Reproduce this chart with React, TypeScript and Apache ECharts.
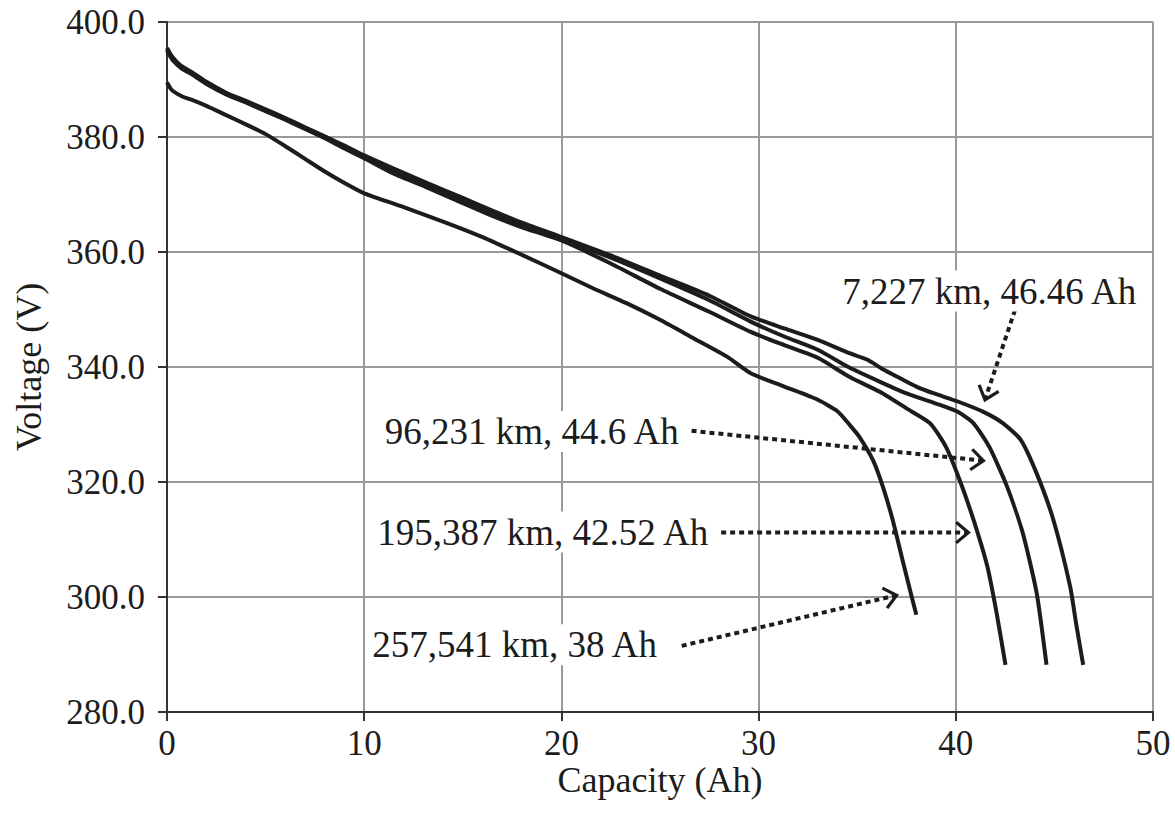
import React, { useEffect, useRef } from "react";
import * as echarts from "echarts";

// Capacity (Ah) / Voltage (V) readings for each battery
const capA = [0, 0.15, 0.3, 0.7, 1.3, 2, 3, 4, 5, 6, 7, 8, 9, 10, 11.5, 13.2, 15, 16.5, 18, 20, 22.5, 25, 27.5, 29.6, 31.3, 33, 34.6, 35.5, 36.3, 37.2, 38, 38.9, 40.1, 41.4, 42.4, 43.3, 44.1, 44.95, 45.8, 46.1, 46.46];
const voltA = [395.5, 394.6, 393.8, 392.4, 391.2, 389.6, 387.7, 386.3, 384.8, 383.3, 381.7, 380.1, 378.5, 376.8, 374.5, 372.0, 369.4, 367.2, 365.1, 362.6, 359.4, 355.9, 352.4, 348.8, 346.7, 344.7, 342.4, 341.3, 339.6, 338.0, 336.6, 335.4, 334.0, 332.2, 330.2, 327.3, 321.5, 313.4, 301.8, 295.4, 288.2];

const capB = [0, 0.15, 0.3, 0.7, 1.3, 2, 3, 4, 5, 6, 7, 8, 9, 10, 11.5, 13.2, 15, 16.5, 18, 20, 22.5, 25, 27.5, 29.6, 31.3, 33, 34.6, 36.3, 37.5, 39.2, 40.1, 40.9, 41.7, 42.6, 43.4, 44.1, 44.6];
const voltB = [395.3, 394.4, 393.6, 392.2, 391.0, 389.4, 387.5, 386.1, 384.6, 383.1, 381.5, 379.9, 378.2, 376.5, 374.1, 371.6, 369.0, 366.9, 364.8, 362.3, 359.0, 355.4, 351.6, 347.9, 345.3, 343.0, 339.9, 337.2, 335.4, 333.4, 332.2, 330.2, 326.1, 319.2, 311.1, 300.7, 288.2];

const capC = [0, 0.15, 0.3, 0.7, 1.3, 2, 3, 4, 5, 6, 7, 8, 9, 10, 11.5, 13.2, 15, 16.5, 18, 20, 22.5, 25, 27.5, 29.6, 31.3, 33, 34.6, 36.3, 37.5, 38.7, 39.5, 40.2, 40.9, 41.6, 42.07, 42.52];
const voltC = [395.0, 394.1, 393.3, 392.0, 390.8, 389.2, 387.4, 386.0, 384.5, 383.0, 381.4, 379.8, 378.0, 376.3, 373.6, 371.2, 368.5, 366.3, 364.3, 362.0, 358.0, 353.6, 349.6, 346.1, 343.8, 341.6, 338.3, 335.4, 332.8, 330.2, 326.1, 320.3, 313.4, 305.3, 297.2, 288.2];

const capD = [0, 0.15, 0.3, 0.8, 1.3, 2, 3, 4, 5, 6, 7, 8, 9, 10, 12, 14, 16, 18, 20, 21.6, 23.3, 25, 26.7, 28.4, 29.6, 31.3, 33, 34, 34.6, 35.1, 35.8, 36.3, 36.8, 37.3, 37.76, 38.0];
const voltD = [389.5, 388.6, 388.0, 387.0, 386.4, 385.4, 383.8, 382.2, 380.5, 378.4, 376.2, 374.0, 372.0, 370.2, 367.8, 365.3, 362.6, 359.5, 356.3, 353.7, 351.1, 348.2, 345.0, 341.8, 338.9, 336.6, 334.3, 332.3, 330.0, 327.9, 323.8, 319.2, 313.4, 306.4, 300.1, 296.9];

const seriesNames = ["7,227 km", "96,231 km", "195,387 km", "257,541 km"];
const annotationTexts = ["7,227 km, 46.46 Ah", "96,231 km, 44.6 Ah", "195,387 km, 42.52 Ah", "257,541 km, 38 Ah"];

// annotation anchors in data units [Ah, V]
const annotationTextAt = [
  [41.7, 353.2],
  [26.15, 328.8],
  [27.65, 311.3],
  [25.05, 291.7],
];
const annotationTextAlign = ["center", "right", "right", "right"];
const arrowFrom = [
  [43.0, 349.9],
  [26.6, 328.9],
  [28.1, 311.2],
  [26.1, 291.5],
];
const arrowTo = [
  [41.48, 334.3],
  [41.4, 323.7],
  [40.64, 311.2],
  [37.0, 300.3],
];

const xTicks = { min: 0, max: 50, interval: 10 };
const yTicks = { min: 280, max: 400, interval: 20 };

const zip = (xs: number[], ys: number[]) => xs.map((x, i) => [x, ys[i]]);

const FONT = '"Liberation Serif", "Times New Roman", serif';
const INK = "#1c1c1c";

export default function App() {
  const ref = useRef<HTMLDivElement>(null);

  useEffect(() => {
    if (!ref.current) return;
    const chart = echarts.init(ref.current, null, { renderer: "svg" });
    const datasets = [zip(capA, voltA), zip(capB, voltB), zip(capC, voltC), zip(capD, voltD)];

    chart.setOption({
      animation: false,
      backgroundColor: "#ffffff",
      grid: { left: 167, right: 22, top: 22, bottom: 109, containLabel: false },
      xAxis: {
        type: "value",
        min: xTicks.min,
        max: xTicks.max,
        interval: xTicks.interval,
        name: "Capacity (Ah)",
        nameLocation: "middle",
        nameGap: 50,
        nameMoveOverlap: false,
        nameTextStyle: { fontFamily: FONT, fontSize: 36, color: INK, lineHeight: 36 },
        axisLine: { show: true, onZero: false, lineStyle: { color: "#333", width: 2 } },
        axisTick: { show: true, inside: false, length: 9, lineStyle: { color: "#333", width: 2 } },
        axisLabel: { fontFamily: FONT, fontSize: 35, color: INK, margin: 14, lineHeight: 35 },
        splitLine: { show: true, showMinLine: false, lineStyle: { color: "#999", width: 2 } },
      },
      yAxis: {
        type: "value",
        min: yTicks.min,
        max: yTicks.max,
        interval: yTicks.interval,
        name: "Voltage (V)",
        nameLocation: "middle",
        nameGap: 120,
        nameMoveOverlap: false,
        nameTextStyle: { fontFamily: FONT, fontSize: 36, color: INK },
        axisLine: { show: true, lineStyle: { color: "#333", width: 2 } },
        axisTick: { show: true, inside: false, length: 9, lineStyle: { color: "#333", width: 2 } },
        axisLabel: {
          fontFamily: FONT,
          fontSize: 35,
          color: INK,
          margin: 22,
          formatter: (v: number) => v.toFixed(1),
        },
        splitLine: { show: true, showMinLine: false, lineStyle: { color: "#999", width: 2 } },
      },
      series: datasets.map((d, i) => ({
        name: seriesNames[i],
        type: "line",
        data: d,
        showSymbol: false,
        symbol: "none",
        smooth: 0.2,
        lineStyle: { color: INK, width: 4 },
        z: 3,
      })),
    });

    const px = (p: number[]) => chart.convertToPixel({ xAxisIndex: 0, yAxisIndex: 0 }, p) as number[];
    const graphics: any[] = [];
    annotationTexts.forEach((t, i) => {
      const s = px(arrowFrom[i]);
      const e = px(arrowTo[i]);
      const dx = e[0] - s[0];
      const dy = e[1] - s[1];
      const len = Math.hypot(dx, dy) || 1;
      const ux = dx / len;
      const uy = dy / len;
      const L = 16;
      const ang = (40 * Math.PI) / 180;
      const arm = (a: number) => {
        const c = Math.cos(a);
        const sn = Math.sin(a);
        const rx = -ux * c + uy * sn;
        const ry = -uy * c - ux * sn;
        return [e[0] + rx * L, e[1] + ry * L];
      };
      graphics.push({
        type: "line",
        z: 10,
        shape: { x1: s[0], y1: s[1], x2: e[0] - ux * 2, y2: e[1] - uy * 2 },
        style: { stroke: INK, lineWidth: 4, lineDash: [5, 4] },
      });
      graphics.push({
        type: "polyline",
        z: 10,
        shape: { points: [arm(ang), e, arm(-ang)] },
        style: { stroke: INK, lineWidth: 3.2, fill: "none" },
      });
      const tp = px(annotationTextAt[i]);
      graphics.push({
        type: "text",
        z: 11,
        x: tp[0],
        y: tp[1],
        style: {
          text: t,
          fill: INK,
          font: `37px ${FONT}`,
          align: annotationTextAlign[i],
          verticalAlign: "middle",
          backgroundColor: "#ffffff",
          padding: [2, 4],
        },
      });
    });
    chart.setOption({ graphic: graphics });

    return () => chart.dispose();
  }, []);

  return (
    <div
      ref={ref}
      style={{ position: "absolute", left: 0, top: 0, width: 1175, height: 821, background: "#fff" }}
    />
  );
}
